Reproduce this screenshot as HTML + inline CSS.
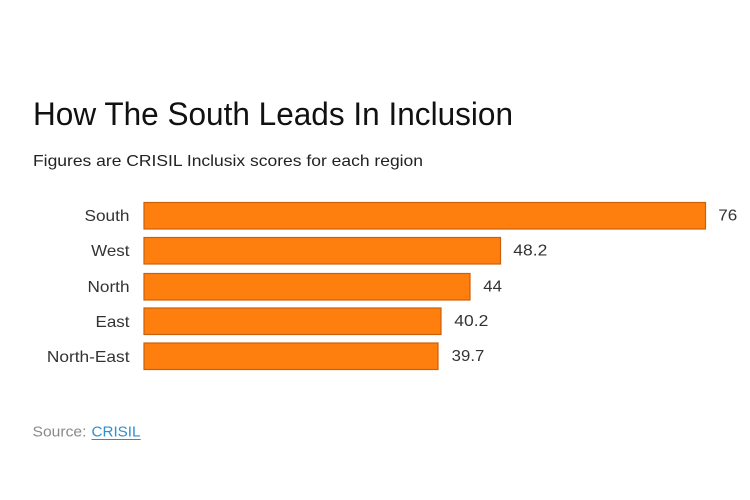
<!DOCTYPE html>
<html>
<head>
<meta charset="utf-8">
<style>
  html, body { margin: 0; padding: 0; background: #ffffff; }
  body { width: 750px; height: 500px; overflow: hidden; }
  svg { display: block; }
  text { font-family: "Liberation Sans", Arial, sans-serif; }
</style>
</head>
<body>
<svg width="750" height="500" viewBox="0 0 750 500" xmlns="http://www.w3.org/2000/svg">
  <rect x="0" y="0" width="750" height="500" fill="#ffffff"/>

  <!-- Title -->
  <text x="33" y="125" font-size="32" fill="#111111" textLength="480" lengthAdjust="spacingAndGlyphs">How The South Leads In Inclusion</text>
  <!-- Subtitle -->
  <text x="33" y="166" font-size="16" fill="#222222" textLength="390" lengthAdjust="spacingAndGlyphs">Figures are CRISIL Inclusix scores for each region</text>

  <!-- Bars -->
  <g fill="#ff7f0e" stroke="#cc5f0a" stroke-width="1.2">
    <rect x="144" y="202.5" width="561.5" height="26.5"/>
    <rect x="144" y="237.5" width="356.5" height="26.5"/>
    <rect x="144" y="273.5" width="326" height="26.5"/>
    <rect x="144" y="308" width="297" height="26.5"/>
    <rect x="144" y="343" width="294" height="26.5"/>
  </g>

  <!-- Category labels -->
  <g font-size="16" fill="#333333" text-anchor="end">
    <text x="129.5" y="221" textLength="45" lengthAdjust="spacingAndGlyphs">South</text>
    <text x="129.5" y="256" textLength="38.3" lengthAdjust="spacingAndGlyphs">West</text>
    <text x="129.5" y="292" textLength="42" lengthAdjust="spacingAndGlyphs">North</text>
    <text x="129.5" y="327" textLength="34" lengthAdjust="spacingAndGlyphs">East</text>
    <text x="129.5" y="362" textLength="82.6" lengthAdjust="spacingAndGlyphs">North-East</text>
  </g>

  <!-- Value labels -->
  <g font-size="16" fill="#333333">
    <text x="718.3" y="220.5" textLength="19" lengthAdjust="spacingAndGlyphs">76</text>
    <text x="513.3" y="255.5" textLength="34" lengthAdjust="spacingAndGlyphs">48.2</text>
    <text x="483.3" y="291.5" textLength="18.7" lengthAdjust="spacingAndGlyphs">44</text>
    <text x="454.3" y="326" textLength="34" lengthAdjust="spacingAndGlyphs">40.2</text>
    <text x="451.7" y="361" textLength="32.6" lengthAdjust="spacingAndGlyphs">39.7</text>
  </g>

  <!-- Source -->
  <text x="32.5" y="436.5" font-size="15" fill="#8a8a8a" textLength="54" lengthAdjust="spacingAndGlyphs">Source:</text>
  <text x="91.5" y="436.5" font-size="15" fill="#2d8fd0" textLength="49" lengthAdjust="spacingAndGlyphs">CRISIL</text>
  <line x1="91.5" y1="439.5" x2="140.7" y2="439.5" stroke="#2d8fd0" stroke-width="1"/>
</svg>
</body>
</html>
